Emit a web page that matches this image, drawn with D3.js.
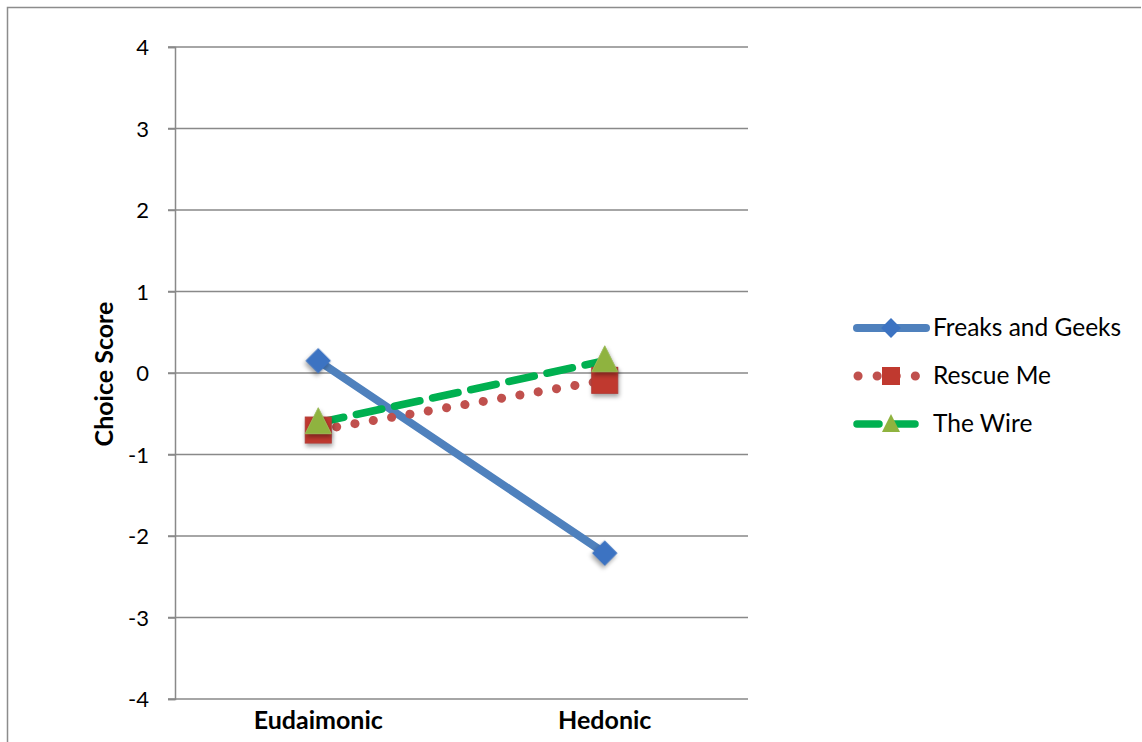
<!DOCTYPE html>
<html>
<head>
<meta charset="utf-8">
<script src="https://cdn.jsdelivr.net/npm/d3@7/dist/d3.min.js"></script>
<style>
  body { margin: 0; background: #fff; }
  text { font-family: Lato, "Open Sans", sans-serif; fill: #000; }
</style>
</head>
<body>
<svg id="chart" width="1142" height="742"></svg>
<script>
// data
const categories = ["Eudaimonic", "Hedonic"];
const seriesNames = ["Freaks and Geeks", "Rescue Me", "The Wire"];
const freaksGeeks = [0.15, -2.21];
const rescueMe = [-0.70, -0.09];
const theWire = [-0.61, 0.15];
const yTicks = [-4, -3, -2, -1, 0, 1, 2, 3, 4];

const series = [
  { name: seriesNames[0], values: freaksGeeks, color: "#4f81bd", marker: "diamond", fill: "#3c73c2", dash: null },
  { name: seriesNames[1], values: rescueMe, color: "#c0504d", marker: "square", fill: "#c0392f", dash: "dot" },
  { name: seriesNames[2], values: theWire, color: "#00b050", marker: "triangle", fill: "#8fb33f", dash: "dash" }
];

const plotLeft = 175, plotRight = 748, plotTop = 47, plotBottom = 699;

const svg = d3.select("#chart");

// outer frame
svg.append("path")
  .attr("d", "M7.5,742 V7.5 H1141")
  .attr("fill", "none")
  .attr("stroke", "#8c8c8c")
  .attr("stroke-width", 1.5);

const x = d3.scaleBand().domain(categories).range([plotLeft, plotRight]);
const y = d3.scaleLinear().domain([-4, 4]).range([plotBottom, plotTop]);

// gridlines
svg.append("g")
  .selectAll("line")
  .data(yTicks)
  .enter()
  .append("line")
  .attr("x1", plotLeft - 7)
  .attr("x2", plotRight)
  .attr("y1", d => y(d))
  .attr("y2", d => y(d))
  .attr("stroke", "#898989")
  .attr("stroke-width", 1.5);

// y axis
const yAxis = svg.append("g")
  .attr("transform", `translate(${plotLeft},0)`)
  .call(d3.axisLeft(y).tickValues(yTicks).tickSize(7).tickPadding(19).tickFormat(d3.format("d")));
yAxis.select(".domain").attr("stroke", "#898989").attr("stroke-width", 1.5);
yAxis.selectAll(".tick line").attr("stroke", "#898989").attr("stroke-width", 1.5);
yAxis.selectAll("text")
  .style("font-size", "22px")
  .style("font-family", "Lato, sans-serif")
  .attr("fill", "#000")
  .attr("dy", "0.36em")
  .text(d => d < 0 ? "-" + Math.abs(d) : d);

// x labels
svg.append("g")
  .selectAll("text")
  .data(categories)
  .enter()
  .append("text")
  .attr("x", d => x(d) + x.bandwidth() / 2)
  .attr("y", 729)
  .attr("text-anchor", "middle")
  .style("font-size", "25px")
  .style("font-weight", "bold")
  .text(d => d);

// y title
svg.append("text")
  .attr("transform", "translate(113,374) rotate(-90)")
  .attr("text-anchor", "middle")
  .style("font-size", "25px")
  .style("font-weight", "bold")
  .text("Choice Score");

function dashOf(s) {
  if (s.dash === "dot") return "0.1 18.5";
  if (s.dash === "dash") return "26 13";
  return null;
}
function widthOf(s) {
  if (s.dash === "dot") return 9;
  return s.dash === "dash" ? 7.5 : 8;
}

function drawMarker(g, type, cx, cy, fill) {
  if (type === "diamond") {
    g.append("rect")
      .attr("x", cx - 9).attr("y", cy - 9)
      .attr("width", 18).attr("height", 18)
      .attr("transform", `rotate(45,${cx},${cy})`)
      .attr("fill", fill)
      .style("filter", "drop-shadow(1px 3px 2px rgba(0,0,0,0.35))");
  } else if (type === "square") {
    g.append("rect")
      .attr("x", cx - 13).attr("y", cy - 13)
      .attr("width", 26).attr("height", 26)
      .attr("fill", fill)
      .attr("stroke", "#b43c38")
      .style("filter", "drop-shadow(1px 3px 2px rgba(0,0,0,0.35))");
  } else {
    g.append("path")
      .attr("d", `M${cx},${cy - 15} L${cx + 13},${cy + 11} L${cx - 13},${cy + 11} Z`)
      .attr("fill", fill)
      .attr("stroke", "#9bbb59")
      .style("filter", "drop-shadow(1px 3px 2px rgba(0,0,0,0.35))");
  }
}

const line = d3.line()
  .x((d, i) => x(categories[i]) + x.bandwidth() / 2)
  .y(d => y(d));

// lines, drawn in series order
series.forEach(s => {
  svg.append("path")
    .datum(s.values)
    .attr("d", line)
    .attr("fill", "none")
    .attr("stroke", s.color)
    .attr("stroke-width", widthOf(s))
    .attr("stroke-linecap", "round")
    .attr("stroke-dasharray", dashOf(s));
});

// markers
series.forEach(s => {
  const g = svg.append("g");
  s.values.forEach((v, i) => {
    drawMarker(g, s.marker, x(categories[i]) + x.bandwidth() / 2, y(v), s.fill);
  });
});

// legend
const legend = svg.append("g");
const legendY = [328, 376, 424];
series.forEach((s, i) => {
  const ly = legendY[i];
  legend.append("line")
    .attr("x1", s.dash === "dot" ? 858 : 857)
    .attr("x2", s.dash === "dash" ? 918 : 926)
    .attr("y1", ly).attr("y2", ly)
    .attr("stroke", s.color)
    .attr("stroke-width", widthOf(s))
    .attr("stroke-linecap", "round")
    .attr("stroke-dasharray", s.dash === "dot" ? "0.1 19" : (s.dash === "dash" ? "22 14" : null));
  const mg = legend.append("g");
  if (s.marker === "diamond") {
    mg.append("rect")
      .attr("x", 891 - 7).attr("y", ly - 7)
      .attr("width", 14).attr("height", 14)
      .attr("transform", `rotate(45,891,${ly})`)
      .attr("fill", s.fill);
  } else if (s.marker === "square") {
    mg.append("rect")
      .attr("x", 891 - 9).attr("y", ly - 9)
      .attr("width", 18).attr("height", 18)
      .attr("fill", s.fill);
  } else {
    mg.append("path")
      .attr("d", `M891,${ly - 10} L900,${ly + 8} L882,${ly + 8} Z`)
      .attr("fill", s.fill);
  }
  legend.append("text")
    .attr("x", 933)
    .attr("y", ly + 8)
    .style("font-size", "24.5px")
    .text(s.name);
});
</script>
</body>
</html>
